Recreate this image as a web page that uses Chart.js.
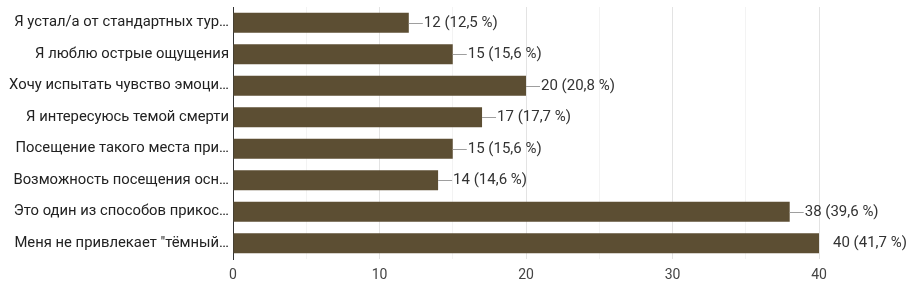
<!DOCTYPE html>
<html>
<head>
<meta charset="utf-8">
<script src="https://cdn.jsdelivr.net/npm/chart.js@4"></script>
<style>
  html, body { margin: 0; padding: 0; background: #fff; }
  #wrap { width: 914px; height: 291px; }
</style>
</head>
<body>
<div id="wrap"><canvas id="chart1" width="914" height="291"></canvas></div>
<script>
// данные с картинки
const answers = [
  'Я устал/а от стандартных тур…',
  'Я люблю острые ощущения',
  'Хочу испытать чувство эмоци…',
  'Я интересуюсь темой смерти',
  'Посещение такого места при…',
  'Возможность посещения осн…',
  'Это один из способов прикос…',
  'Меня не привлекает "тёмный…'
];
const counts = [12, 15, 20, 17, 15, 14, 38, 40];
const percents = ['12,5', '15,6', '20,8', '17,7', '15,6', '14,6', '39,6', '41,7'];
const xTicks = [0, 10, 20, 30, 40];

const barColor = '#5c4e33';

// подписи справа от столбцов
const valueLabels = {
  id: 'valueLabels',
  afterDatasetsDraw(chart) {
    const ctx = chart.ctx;
    const meta = chart.getDatasetMeta(0);
    const maxVal = Math.max(...counts);
    ctx.save();
    ctx.font = '15px Roboto, Arial, sans-serif';
    ctx.textBaseline = 'middle';
    ctx.textAlign = 'left';
    meta.data.forEach((bar, i) => {
      const x = bar.x, y = bar.y;
      ctx.fillStyle = '#333';
      if (counts[i] !== maxVal) {
        ctx.strokeStyle = '#9e9e9e';
        ctx.lineWidth = 1;
        ctx.beginPath();
        ctx.moveTo(x, Math.round(y) + 0.5);
        ctx.lineTo(x + 14, Math.round(y) + 0.5);
        ctx.stroke();
        ctx.fillText(counts[i] + ' (' + percents[i] + ' %)', x + 15, y);
      } else {
        ctx.fillText(counts[i] + ' (' + percents[i] + ' %)', x + 14, y);
      }
    });
    ctx.restore();
  }
};

const ctx = document.getElementById('chart1').getContext('2d');
new Chart(ctx, {
  type: 'bar',
  data: {
    labels: answers,
    datasets: [{
      data: counts,
      backgroundColor: barColor,
      borderWidth: 0,
      barPercentage: 0.64,
      categoryPercentage: 1
    }]
  },
  options: {
    indexAxis: 'y',
    responsive: false,
    animation: false,
    layout: { padding: { top: 7, right: 95, bottom: 0, left: 0 } },
    plugins: {
      legend: { display: false },
      tooltip: { enabled: false }
    },
    scales: {
      x: {
        min: 0,
        max: 40,
        afterFit: s => { s.height = 32; s.paddingLeft = 0; s.paddingRight = 0; },
        afterBuildTicks: s => { s.ticks = [0, 5, 10, 15, 20, 25, 30, 35, 40].map(v => ({ value: v })); },
        ticks: {
          color: '#444',
          font: { family: 'Roboto, Arial, sans-serif', size: 14 },
          padding: 8,
          callback: v => (xTicks.includes(v) ? v : '')
        },
        grid: {
          color: c => (c.tick && c.tick.value % 10 === 0 ? '#e3e3e3' : '#f3f3f3'),
          drawTicks: false
        },
        border: { display: false }
      },
      y: {
        afterFit: s => { s.width = 233; s.paddingTop = 0; s.paddingBottom = 0; },
        ticks: {
          color: '#222',
          font: { family: 'Roboto, Arial, sans-serif', size: 14.8 },
          padding: 4
        },
        grid: { display: false, drawTicks: false },
        border: { display: true, color: '#333', width: 1 }
      }
    }
  },
  plugins: [valueLabels]
});
</script>
</body>
</html>
